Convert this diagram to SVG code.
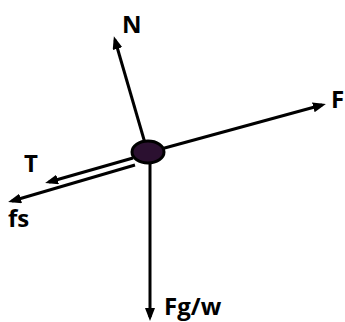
<svg xmlns="http://www.w3.org/2000/svg" width="345" height="322" viewBox="0 0 345 322">
<style>
.v{stroke:#000;stroke-width:3;fill:none;marker-end:url(#ah)}
.lbl{font-family:"Open Sans","Noto Sans","DejaVu Sans",sans-serif;font-weight:bold;font-size:24px;fill:#000}
</style>
<defs>
<marker id="ah" markerUnits="userSpaceOnUse" markerWidth="14" markerHeight="12" refX="9" refY="5" orient="auto">
<path d="M0,0 L13,5 L0,10 z" fill="#000"/>
</marker>
</defs>
<rect width="345" height="322" fill="#fff"/>
<g id="connectors">
<line class="v" x1="147" y1="150" x2="115" y2="40"/>
<line class="v" x1="150" y1="152" x2="322" y2="105"/>
<line class="v" x1="150" y1="152" x2="150" y2="317"/>
<line class="v" x1="133" y1="158" x2="49" y2="182"/>
<line class="v" x1="135" y1="165" x2="12" y2="201"/>
</g>
<g id="object">
<ellipse cx="148" cy="152" rx="16" ry="11" fill="#2b1030" stroke="#000" stroke-width="3"/>
</g>
<g id="label-N"><text class="lbl" x="122" y="33">N</text></g>
<g id="label-F"><text class="lbl" x="331" y="108">F</text></g>
<g id="label-T"><text class="lbl" x="24" y="172">T</text></g>
<g id="label-fs"><text class="lbl" x="8" y="227">fs</text></g>
<g id="label-Fgw"><text class="lbl" x="164" y="315">Fg/w</text></g>
</svg>
